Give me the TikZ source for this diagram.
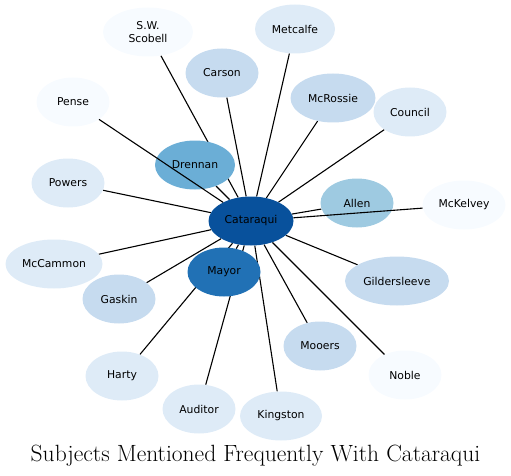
\documentclass[tikz,border=0pt]{standalone}
\usepackage{fontspec}
\newfontfamily\nodefont{DejaVu Sans}
\usetikzlibrary{shapes.geometric}
\pgfdeclarelayer{background}
\pgfsetlayers{background,main}

% Blues palette
\definecolor{blueA}{HTML}{F7FBFF}
\definecolor{blueB}{HTML}{DEEBF7}
\definecolor{blueC}{HTML}{C6DBEF}
\definecolor{blueD}{HTML}{9ECAE1}
\definecolor{blueE}{HTML}{6BAED6}
\definecolor{blueF}{HTML}{2171B5}
\definecolor{blueG}{HTML}{08519C}

\tikzset{
  subject/.style={ellipse, draw=none, inner sep=0pt, minimum height=49pt,
    align=center, font=\nodefont\fontsize{10.8}{12.5}\selectfont},
  link/.style={line width=1.1pt}
}

\begin{document}
\begin{tikzpicture}[x=1pt, y=-1pt]
  \useasboundingbox (0,0) rectangle (511,476);

  % Hub
  \node[subject, fill=blueG, minimum width=85pt] (cataraqui) at (251,221) {Cataraqui};

  % Subjects
  \foreach \n/\x/\y/\c/\w/\t in {
      scobell/148/32/blueA/90/{S.W.\\Scobell},
      carson/222/73/blueC/73/Carson,
      metcalfe/295/29/blueB/80/Metcalfe,
      mcrossie/333/98/blueC/85/McRossie,
      council/410/112/blueB/73/Council,
      pense/73/102/blueA/73/Pense,
      drennan/195/165/blueE/80/Drennan,
      powers/68/183/blueB/73/Powers,
      allen/357/203/blueD/73/Allen,
      mckelvey/464/205/blueA/83/McKelvey,
      mccammon/54/264/blueB/97/McCammon,
      gaskin/119/299/blueC/73/Gaskin,
      mayor/224/272/blueF/73/Mayor,
      gildersleeve/397/281/blueC/104/Gildersleeve,
      mooers/320/346/blueC/73/Mooers,
      noble/405/375/blueA/73/Noble,
      harty/122/376/blueB/73/Harty,
      auditor/199/409/blueB/73/Auditor,
      kingston/281/416/blueB/82/Kingston} {
    \node[subject, fill=\c, minimum width=\w pt] (\n) at (\x,\y) {\t};
  }

  % Links behind the nodes
  \begin{pgfonlayer}{background}
    \foreach \n in {scobell, carson, metcalfe, mcrossie, council, drennan,
        powers, allen, mccammon, gaskin, mayor, gildersleeve, mooers,
        noble, harty, auditor, kingston}
      \draw[link] (cataraqui) -- (\n);
  \end{pgfonlayer}

  % Links drawn over Drennan and Allen
  \draw[link] (cataraqui) -- (pense);
  \draw[link] (cataraqui) -- (mckelvey);

  % Title
  \node[anchor=base, font=\fontsize{23.5}{28}\selectfont] (title) at (255.5,461)
    {Subjects Mentioned Frequently With Cataraqui};
\end{tikzpicture}
\end{document}
